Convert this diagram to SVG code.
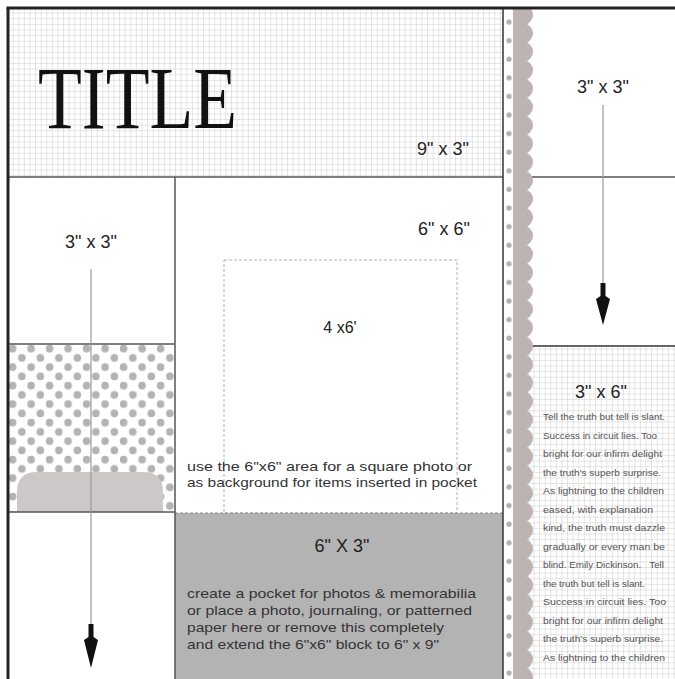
<svg xmlns="http://www.w3.org/2000/svg" width="675" height="679" viewBox="0 0 675 679">
<style>
.lbl{font-family:"Liberation Sans",Arial,sans-serif;fill:#222;}
.body{font-family:"Liberation Sans",Arial,sans-serif;fill:#333;font-size:13.5px;}
.jr{font-family:"Liberation Sans",Arial,sans-serif;fill:#555;font-size:9.5px;}
.ln{stroke:#555;stroke-width:1.5;fill:none;}
.arrowline{stroke:#999;stroke-width:1.2;fill:none;}
.head{fill:#111;}
</style>
<defs>
<pattern id="grid" x="8" y="8" width="5.6" height="5.6" patternUnits="userSpaceOnUse">
<rect width="5.6" height="5.6" fill="#fff"/>
<path d="M5.6 0V5.6M0 5.6H5.6" stroke="#c2c2c2" stroke-width="0.8"/>
</pattern>
<pattern id="polka" x="8" y="344" width="18.5" height="18.5" patternUnits="userSpaceOnUse">
<rect width="18.5" height="18.5" fill="#fff"/>
<circle cx="4.6" cy="4.6" r="3.8" fill="#b3b3b3"/>
<circle cx="13.85" cy="13.85" r="3.8" fill="#b3b3b3"/>
</pattern>
<pattern id="dots" x="504" y="13" width="10" height="18.6" patternUnits="userSpaceOnUse">
<rect width="10" height="18.6" fill="#fff"/>
<circle cx="5" cy="9" r="2.6" fill="#b0b0b0"/>
</pattern>
<pattern id="scallop" x="513" y="5.8" width="22" height="18.4" patternUnits="userSpaceOnUse">
<rect x="0" y="0" width="14" height="18.4" fill="#bdb3b3"/>
<circle cx="10" cy="9.2" r="10" fill="#bdb3b3"/>
</pattern>
</defs>
<rect width="675" height="679" fill="#fff"/>

<g id="title-block">
<rect x="8" y="8" width="495" height="169" fill="url(#grid)"/>
<text x="38" y="128" font-family="'Liberation Serif','Times New Roman',serif" font-size="88" fill="#111" textLength="199" lengthAdjust="spacingAndGlyphs">TITLE</text>
<text class="lbl" x="443" y="155" font-size="18" text-anchor="middle">9" x 3"</text>
</g>

<g id="cell-left-3x3">
<text class="lbl" x="91" y="248" font-size="18" text-anchor="middle">3" x 3"</text>
</g>

<g id="cell-left-polka">
<rect x="8" y="344" width="167" height="168" fill="url(#polka)"/>
<path d="M17 512V492Q17 472 37 472H143Q163 472 163 492V512Z" fill="#cdc8c8"/>
</g>

<g id="cell-left-bottom">
<rect x="8" y="512" width="167" height="167" fill="#fff"/>
</g>

<g id="cell-6x6">
<rect x="224" y="260" width="233" height="253" fill="none" stroke="#a8b3c4" stroke-width="1" stroke-dasharray="3 2"/>
<text class="lbl" x="444" y="235" font-size="18" text-anchor="middle">6" x 6"</text>
<text class="lbl" x="340" y="333" font-size="16" text-anchor="middle">4 x6'</text>
<text class="body" x="187" y="471" textLength="285" lengthAdjust="spacingAndGlyphs">use the 6"x6" area for a square photo or</text>
<text class="body" x="187" y="487" textLength="290" lengthAdjust="spacingAndGlyphs">as background for items inserted in pocket</text>
</g>

<g id="pocket-6x3">
<rect x="175" y="513" width="328" height="166" fill="#b3b3b3"/>
<line x1="175" y1="513" x2="503" y2="513" stroke="#8a8a8a" stroke-width="1" stroke-dasharray="3 2"/>
<text class="lbl" x="342" y="552" font-size="18" text-anchor="middle">6" X 3"</text>
<text class="body" x="187" y="598" textLength="289" lengthAdjust="spacingAndGlyphs">create a pocket for photos &amp; memorabilia</text>
<text class="body" x="187" y="615" textLength="285" lengthAdjust="spacingAndGlyphs">or place a photo, journaling, or patterned</text>
<text class="body" x="187" y="632" textLength="257" lengthAdjust="spacingAndGlyphs">paper here or remove this completely</text>
<text class="body" x="187" y="649" textLength="252" lengthAdjust="spacingAndGlyphs">and extend the 6"x6" block to 6" x 9"</text>
</g>

<g id="cell-right-3x3">
<text class="lbl" x="603" y="93" font-size="18" text-anchor="middle">3" x 3"</text>
</g>

<g id="cell-right-3x6">
<rect x="527" y="346" width="148" height="333" fill="url(#grid)"/>
<text class="lbl" x="601" y="398" font-size="18" text-anchor="middle">3" x 6"</text>
<text class="jr" x="543" y="420" textLength="122" lengthAdjust="spacingAndGlyphs">Tell the truth but tell is slant.</text>
<text class="jr" x="543" y="438.5" textLength="114" lengthAdjust="spacingAndGlyphs">Success in circuit lies. Too</text>
<text class="jr" x="543" y="457" textLength="119" lengthAdjust="spacingAndGlyphs">bright for our infirm delight</text>
<text class="jr" x="543" y="475.5" textLength="118" lengthAdjust="spacingAndGlyphs">the truth's superb surprise.</text>
<text class="jr" x="543" y="494" textLength="121" lengthAdjust="spacingAndGlyphs">As lightning to the children</text>
<text class="jr" x="543" y="512.5" textLength="110" lengthAdjust="spacingAndGlyphs">eased, with explanation</text>
<text class="jr" x="543" y="531" textLength="122" lengthAdjust="spacingAndGlyphs">kind, the truth must dazzle</text>
<text class="jr" x="543" y="549.5" textLength="122" lengthAdjust="spacingAndGlyphs">gradually or every man be</text>
<text class="jr" x="543" y="568" textLength="121" lengthAdjust="spacingAndGlyphs" xml:space="preserve">blind. Emily Dickinson.   Tell</text>
<text class="jr" x="543" y="586.5" textLength="102" lengthAdjust="spacingAndGlyphs">the truth but tell is slant.</text>
<text class="jr" x="543" y="605" textLength="123" lengthAdjust="spacingAndGlyphs">Success in circuit lies. Too</text>
<text class="jr" x="543" y="623.5" textLength="120" lengthAdjust="spacingAndGlyphs">bright for our infirm delight</text>
<text class="jr" x="543" y="642" textLength="120" lengthAdjust="spacingAndGlyphs">the truth's superb surprise.</text>
<text class="jr" x="543" y="660.5" textLength="122" lengthAdjust="spacingAndGlyphs">As lightning to the children</text>
</g>

<g id="dividers">
<line class="ln" x1="8" y1="177" x2="503" y2="177"/>
<line class="ln" x1="175" y1="177" x2="175" y2="679"/>
<line class="ln" x1="8" y1="344" x2="175" y2="344"/>
<line class="ln" x1="8" y1="512" x2="175" y2="512"/>
<line class="ln" x1="527" y1="177" x2="675" y2="177" stroke="#777"/>
<line x1="527" y1="346" x2="675" y2="346" stroke="#333" stroke-width="1.6"/>
<line x1="503" y1="8" x2="503" y2="679" stroke="#333" stroke-width="1.5"/>
</g>

<g id="strip">
<rect x="504" y="8" width="9" height="671" fill="url(#dots)"/>
<rect x="513" y="8" width="22" height="671" fill="url(#scallop)"/>
</g>

<g id="border">
<line x1="8" y1="8" x2="8" y2="679" stroke="#222" stroke-width="3"/>
<line x1="6.5" y1="8" x2="675" y2="8" stroke="#222" stroke-width="3"/>
</g>

<g id="connectors">
<line class="arrowline" x1="91" y1="269" x2="91" y2="626"/>
<polygon class="head" points="88.5,624 93.5,624 93.5,637 98,640 91,668 84,640 88.5,637"/>
<line class="arrowline" x1="603" y1="105" x2="603" y2="285"/>
<polygon class="head" points="600.5,283 605.5,283 605.5,296 610,299 603,325 596,299 600.5,296"/>
</g>
</svg>
